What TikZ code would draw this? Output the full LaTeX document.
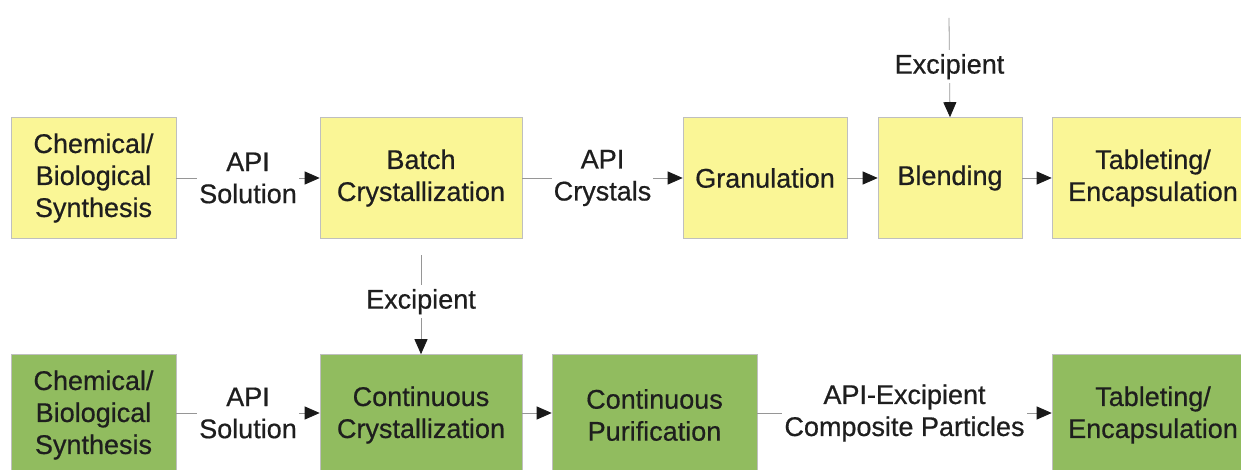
\documentclass[tikz,border=0pt]{standalone}
\usepackage{fontspec}
\setmainfont[FakeBold=0.6]{Liberation Sans}
\usetikzlibrary{arrows.meta}
\definecolor{boxyellow}{RGB}{250,246,150}
\definecolor{boxgreen}{RGB}{145,188,95}
\definecolor{txt}{RGB}{30,30,30}
\definecolor{linegray}{RGB}{150,150,150}
\tikzset{
  box/.style={rectangle, draw=black!25, line width=0.6pt, align=center, text=txt,
    font=\fontsize{27}{32}\selectfont, inner sep=0pt},
  ybox/.style={box, fill=boxyellow},
  gbox/.style={box, fill=boxgreen},
  lab/.style={fill=white, align=center, text=txt, font=\fontsize{27}{32}\selectfont, inner sep=2pt},
  flow/.style={draw=linegray, line width=0.8pt, -{Triangle[length=15pt,width=13pt,color=black!90,fill=black!90]}},
}
\begin{document}
\begin{tikzpicture}[x=1pt,y=-1pt]
\useasboundingbox (0,0) rectangle (1241,470);
% top row
\node[ybox, minimum width=165, minimum height=121] (s1) at (93.5,178) {Chemical/\\Biological\\Synthesis};
\node[ybox, minimum width=202, minimum height=121] (bc) at (421,178) {Batch\\Crystallization};
\node[ybox, minimum width=164, minimum height=121] (gr) at (765,178) {Granulation};
\node[ybox, minimum width=144, minimum height=121] (bl) at (950,178) {Blending};
\node[ybox, minimum width=202, minimum height=121] (t1) at (1153,178) {Tableting/\\Encapsulation};
\coordinate (ex1) at (949,18);
% bottom row
\node[gbox, minimum width=165, minimum height=121] (s2) at (93.5,415) {Chemical/\\Biological\\Synthesis};
\node[gbox, minimum width=202, minimum height=121] (cc) at (421,415) {Continuous\\Crystallization};
\node[gbox, minimum width=205, minimum height=121] (cp) at (654.5,415) {Continuous\\Purification};
\node[gbox, minimum width=202, minimum height=121] (t2) at (1153,415) {Tableting/\\Encapsulation};
\coordinate (ex2) at (421,255);
% connectors top
\draw[flow] (s1.east) -- node[lab] {API\\Solution} (bc.west);
\draw[flow] (bc.east) -- node[lab] {API\\Crystals} (gr.west);
\draw[flow] (gr.east) -- (bl.west);
\draw[flow] (bl.east) -- (t1.west);
\draw[flow] (ex1) -- node[lab, pos=0.49, inner sep=4pt] {Excipient} (bl.north);
% connectors bottom
\draw[flow] (s2.east |- 0,413) -- node[lab] {API\\Solution} (cc.west |- 0,413);
\draw[flow] (cc.east |- 0,413) -- (cp.west |- 0,413);
\draw[flow] (cp.east |- 0,413) -- node[lab] {API-Excipient\\Composite Particles} (t2.west |- 0,413);
\draw[flow] (ex2) -- node[lab, pos=0.47, inner sep=4pt] {Excipient} (cc.north);
\end{tikzpicture}
\end{document}
